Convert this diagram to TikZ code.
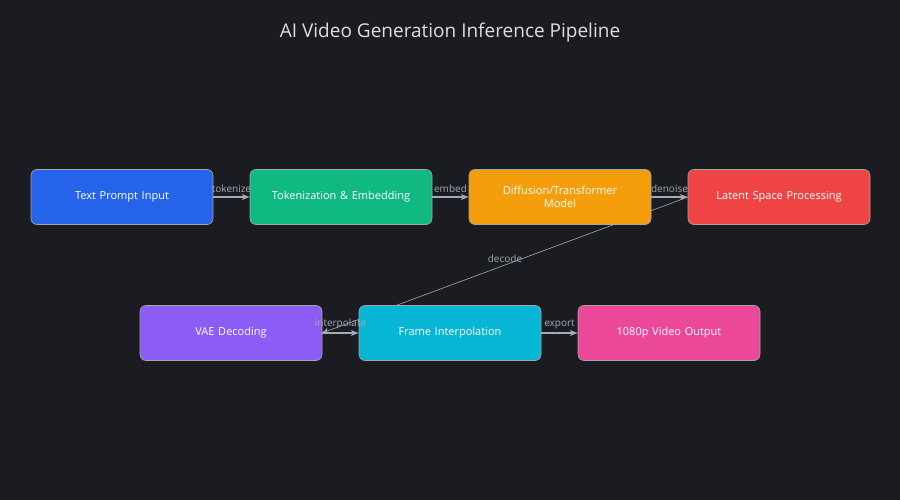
\documentclass[tikz,border=0pt]{standalone}
\usepackage{fontspec}
\setmainfont{Open Sans}
\usetikzlibrary{positioning, arrows.meta}
\definecolor{bg}{HTML}{1B1C21}
\definecolor{edgegray}{HTML}{A3AAB8}
\definecolor{cblue}{HTML}{2563EB}
\definecolor{cgreen}{HTML}{10B981}
\definecolor{corange}{HTML}{F59E0B}
\definecolor{cred}{HTML}{EF4444}
\definecolor{cpurple}{HTML}{8B5CF6}
\definecolor{ccyan}{HTML}{06B6D4}
\definecolor{cpink}{HTML}{EC4899}
\tikzset{
  stage/.style={draw=gray!70, line width=0.6pt, rounded corners=6pt, minimum width=182pt,
    minimum height=55pt, text width=150pt, align=center, text=white, font=\fontsize{11}{13}\selectfont},
  flow/.style={-{Stealth[length=8pt,width=6pt]}, draw=edgegray, line width=1.2pt},
  elabel/.style={text=edgegray, font=\fontsize{10}{12}\selectfont, inner sep=1pt}
}
\begin{document}
\begin{tikzpicture}[x=1pt,y=-1pt]
  \fill[bg] (0,0) rectangle (900,500);
  \node[text=gray!25, font=\fontsize{19}{22}\selectfont] (title) at (450,33) {AI Video Generation Inference Pipeline};
  % decode line runs behind the boxes
  \coordinate (dec_start) at (688,197);
  \coordinate (dec_end) at (322,333);
  \draw[-{Stealth[length=7pt,width=6pt]}, draw=edgegray, line width=0.6pt] (dec_start) -- node[elabel, pos=0.5, above=1pt] {decode} (dec_end);
  \node[stage, fill=cblue] (prompt) at (122,197) {Text Prompt Input};
  \node[stage, fill=cgreen] (token) at (341,197) {Tokenization \& Embedding};
  \node[stage, fill=corange] (diff) at (560,197) {Diffusion/Transformer Model};
  \node[stage, fill=cred] (latent) at (779,197) {Latent Space Processing};
  \node[stage, fill=cpurple] (vae) at (231,333) {VAE Decoding};
  \node[stage, fill=ccyan] (frame) at (450,333) {Frame Interpolation};
  \node[stage, fill=cpink] (output) at (669,333) {1080p Video Output};
  \path (prompt) -- node[elabel, above=3pt] {tokenize} (token);
  \path (token) -- node[elabel, above=3pt] {embed} (diff);
  \path (diff) -- node[elabel, above=3pt] {denoise} (latent);
  \path (vae) -- node[elabel, above=3pt] {interpolate} (frame);
  \path (frame) -- node[elabel, above=3pt] {export} (output);
  \draw[flow] (prompt) -- (token);
  \draw[flow] (token) -- (diff);
  \draw[flow] (diff) -- (latent);
  \draw[flow] (vae) -- (frame);
  \draw[flow] (frame) -- (output);
\end{tikzpicture}
\end{document}
